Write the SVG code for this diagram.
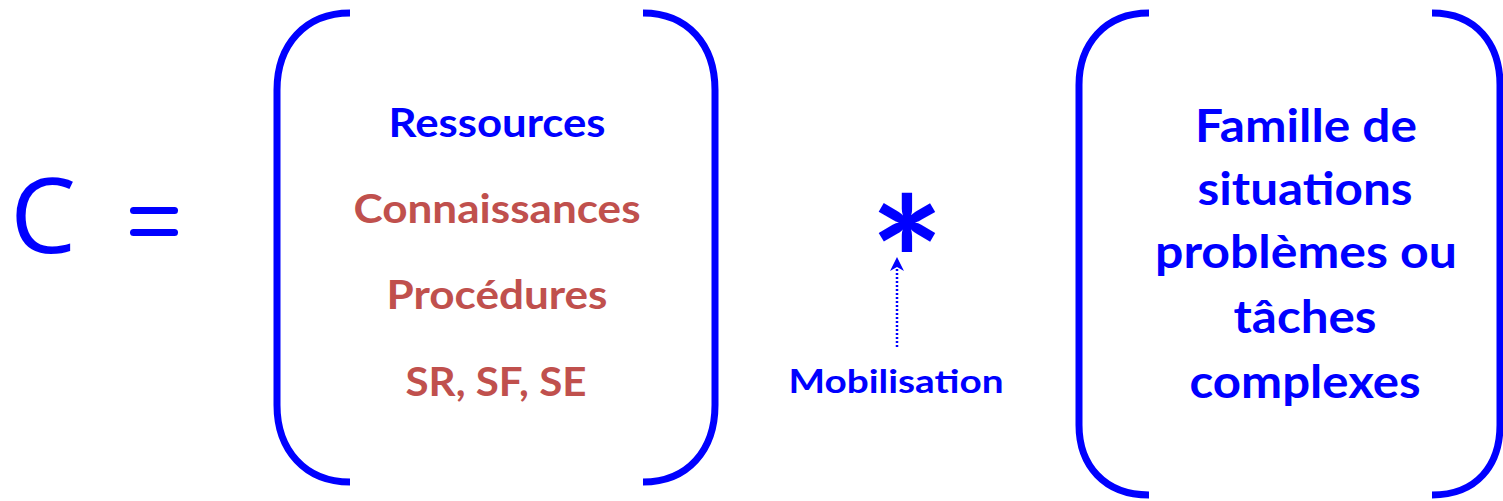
<svg xmlns="http://www.w3.org/2000/svg" width="1503" height="501" viewBox="0 0 1503 501">
<style>
.br{fill:none;stroke:#0000FF;stroke-width:7;stroke-linecap:butt}
.t{font-family:Lato,"Open Sans","Liberation Sans",sans-serif;font-weight:bold;text-anchor:middle}
.b{fill:#0000FF}
.r{fill:#C0504D}
</style>
<rect width="1503" height="501" fill="#FFFFFF"/>
<g id="lhs">
<text x="43" y="253" class="b" style="font-family:'Open Sans',Lato,'Liberation Sans',sans-serif;font-size:105px;text-anchor:middle">C</text>
<rect x="130" y="207" width="48" height="7" rx="3.5" class="b"/>
<rect x="130" y="229" width="48" height="7" rx="3.5" class="b"/>
</g>
<g id="resources">
<path class="br" d="M350,13 C305,13 277,45 277,90 L277,405 C277,450 305,482 350,482"/>
<path class="br" d="M643,13 C688,13 715,45 715,90 L715,405 C715,450 688,482 643,482"/>
<text x="497" y="137" class="t b" font-size="40" textLength="217" lengthAdjust="spacingAndGlyphs">Ressources</text>
<text x="497" y="223" class="t r" font-size="40" textLength="287" lengthAdjust="spacingAndGlyphs">Connaissances</text>
<text x="497" y="309" class="t r" font-size="40" textLength="221" lengthAdjust="spacingAndGlyphs">Procédures</text>
<text x="496" y="396" class="t r" font-size="40" textLength="181" lengthAdjust="spacingAndGlyphs">SR, SF, SE</text>
</g>
<g id="operator">
<text x="907" y="325" class="t b" font-size="175">*</text>
<text x="896" y="393" class="t b" font-size="32" textLength="215" lengthAdjust="spacingAndGlyphs">Mobilisation</text>
</g>
<g id="situations">
<path class="br" d="M1149,13 C1104,13 1079,45 1079,85 L1079,425 C1079,465 1104,495 1149,495"/>
<path class="br" d="M1432,13 C1477,13 1500,45 1500,85 L1500,425 C1500,465 1477,495 1432,495"/>
<text x="1306" y="142" class="t b" font-size="46" textLength="222" lengthAdjust="spacingAndGlyphs">Famille de</text>
<text x="1305" y="205" class="t b" font-size="46" textLength="215" lengthAdjust="spacingAndGlyphs">situations</text>
<text x="1306" y="268" class="t b" font-size="46" textLength="302" lengthAdjust="spacingAndGlyphs">problèmes ou</text>
<text x="1305" y="333" class="t b" font-size="46" textLength="143" lengthAdjust="spacingAndGlyphs">tâches</text>
<text x="1305" y="398" class="t b" font-size="46" textLength="231" lengthAdjust="spacingAndGlyphs">complexes</text>
</g>
<g id="connectors">
<line x1="897" y1="347" x2="897" y2="266" stroke="#0000FF" stroke-width="2.5" stroke-dasharray="2 2"/>
<path d="M897,257 L904,271 L897,267 L890,271 Z" fill="#0000FF"/>
</g>
</svg>
